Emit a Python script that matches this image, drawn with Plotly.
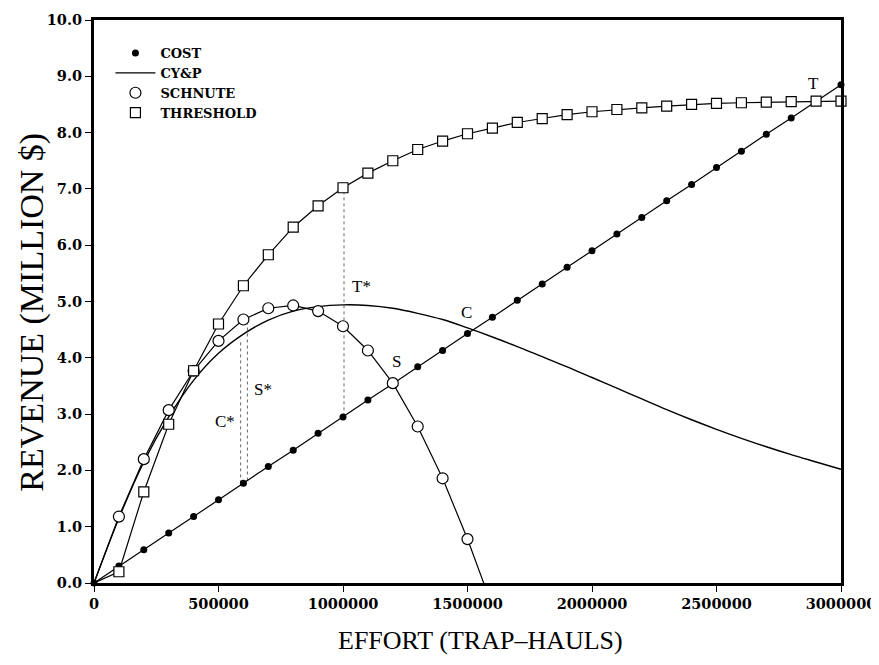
import plotly.graph_objects as go

# ---- data ----
effort_k = [0, 100, 200, 300, 400, 500, 600, 700, 800, 900, 1000, 1100, 1200, 1300, 1400, 1500,
            1600, 1700, 1800, 1900, 2000, 2100, 2200, 2300, 2400, 2500, 2600, 2700, 2800, 2900, 3000]
effort = [e * 1000 for e in effort_k]

cost = [0.00, 0.30, 0.59, 0.89, 1.18, 1.48, 1.77, 2.07, 2.36, 2.66, 2.95, 3.25, 3.54, 3.84, 4.13, 4.43,
        4.72, 5.02, 5.31, 5.61, 5.90, 6.20, 6.49, 6.79, 7.08, 7.38, 7.67, 7.97, 8.26, 8.56, 8.85]

cyp = [0.00, 1.15, 2.15, 2.95, 3.60, 4.08, 4.42, 4.67, 4.83, 4.91, 4.94, 4.93, 4.88, 4.79, 4.68, 4.53,
       4.37, 4.20, 4.02, 3.84, 3.65, 3.46, 3.27, 3.08, 2.90, 2.73, 2.57, 2.42, 2.28, 2.15, 2.02]

schnute_effort = [100000, 200000, 300000, 400000, 500000, 600000, 700000, 800000, 900000, 1000000,
                  1100000, 1200000, 1300000, 1400000, 1500000]
schnute = [1.18, 2.20, 3.07, 3.77, 4.30, 4.68, 4.88, 4.93, 4.83, 4.56, 4.13, 3.55, 2.78, 1.86, 0.78]
# curve continues from origin and past the last point, below the axis
schnute_curve_effort = [0] + schnute_effort + [1600000]
schnute_curve = [0.0] + schnute + [-0.42]

threshold_effort = effort[1:]
threshold = [0.20, 1.62, 2.82, 3.77, 4.60, 5.28, 5.83, 6.32, 6.70, 7.02, 7.28, 7.50, 7.70, 7.85, 7.98,
             8.08, 8.18, 8.25, 8.32, 8.37, 8.41, 8.44, 8.47, 8.50, 8.52, 8.53, 8.54, 8.55, 8.56, 8.56]
threshold_curve_effort = [0] + threshold_effort
threshold_curve = [0.0] + threshold

# optimum-effort drop lines (C*, S*, T*)
optimum_effort = [589000, 616000, 1004000]
optimum_low = [1.77, 1.82, 2.96]
optimum_high = [4.30, 4.60, 7.02]

# point labels
label_text = ["C*", "S*", "T*", "S", "C", "T"]
label_x = [526000, 680000, 1075000, 1215000, 1497000, 2889000]
label_y = [2.87, 3.43, 5.27, 3.93, 4.80, 8.88]

x_ticks = [0, 500000, 1000000, 1500000, 2000000, 2500000, 3000000]
y_ticks = [0, 1, 2, 3, 4, 5, 6, 7, 8, 9, 10]

x_title = "EFFORT (TRAP\u2013HAULS)"
y_title = "REVENUE (MILLION $)"

SERIF = "Liberation Serif"
TICKFONT = dict(family="DejaVu Serif", size=14.5, color="black", weight="bold")

fig = go.Figure()

# drop lines
dx, dy = [], []
for xv, lo, hi in zip(optimum_effort, optimum_low, optimum_high):
    dx += [xv, xv, None]
    dy += [lo, hi, None]
fig.add_trace(go.Scatter(x=dx, y=dy, mode="lines", showlegend=False, hoverinfo="skip",
                         line=dict(color="#666", width=1, dash="dot")))

# curves (no legend)
fig.add_trace(go.Scatter(x=effort, y=cost, mode="lines", showlegend=False,
                         line=dict(color="black", width=1.2)))
fig.add_trace(go.Scatter(x=schnute_curve_effort, y=schnute_curve, mode="lines", showlegend=False,
                         line=dict(color="black", width=1.2)))
fig.add_trace(go.Scatter(x=threshold_curve_effort, y=threshold_curve, mode="lines", showlegend=False,
                         line=dict(color="black", width=1.2)))

# legend / marker traces
fig.add_trace(go.Scatter(x=effort, y=cost, mode="markers", name="COST", cliponaxis=False,
                         marker=dict(symbol="circle", size=7, color="black")))
fig.add_trace(go.Scatter(x=effort, y=cyp, mode="lines", name="CY&P",
                         line=dict(color="black", width=1.4, shape="spline")))
fig.add_trace(go.Scatter(x=schnute_effort, y=schnute, mode="markers", name="SCHNUTE", cliponaxis=False,
                         marker=dict(symbol="circle", size=11, color="white",
                                     line=dict(color="black", width=1.2))))
fig.add_trace(go.Scatter(x=threshold_effort, y=threshold, mode="markers", name="THRESHOLD", cliponaxis=False,
                         marker=dict(symbol="square", size=10, color="white",
                                     line=dict(color="black", width=1.2))))

for t, xv, yv in zip(label_text, label_x, label_y):
    fig.add_annotation(x=xv, y=yv, text=t, showarrow=False,
                       font=dict(family=SERIF, size=17, color="black"))

# axis titles
fig.add_annotation(xref="paper", yref="paper", x=0.518, y=-0.102, yanchor="middle",
                   text=x_title, showarrow=False, font=dict(family=SERIF, size=26, color="black"))
fig.add_annotation(xref="paper", yref="paper", x=-0.083, y=0.482, xanchor="center", textangle=-90,
                   text=y_title, showarrow=False, font=dict(family=SERIF, size=34, color="black"))

# page body adds an 8px margin, so the figure is sized to fit the 879x665 window
fig.update_layout(
    width=871, height=649,
    margin=dict(l=86, r=38, t=12, b=74),
    paper_bgcolor="white", plot_bgcolor="white",
    font=dict(family=SERIF, color="black"),
    legend=dict(x=0.022, y=0.968, xanchor="left", yanchor="top", bgcolor="rgba(0,0,0,0)",
                font=dict(family="DejaVu Serif", size=13, color="black", weight="bold"),
                traceorder="normal", tracegroupgap=0, itemwidth=40),
    xaxis=dict(range=[0, 3000000], tickvals=x_ticks, tickformat="d", automargin=False,
               showgrid=False, zeroline=False, showline=True, linecolor="black", linewidth=3,
               mirror=True, ticks="outside", ticklen=6, tickcolor="black",
               tickfont=TICKFONT),
    yaxis=dict(range=[0, 10], tickvals=y_ticks, tickformat=".1f", automargin=False,
               showgrid=False, zeroline=False, showline=True, linecolor="black", linewidth=3,
               mirror=True, ticks="outside", ticklen=6, tickcolor="black",
               tickfont=TICKFONT),
)

fig.write_html("out.html")
